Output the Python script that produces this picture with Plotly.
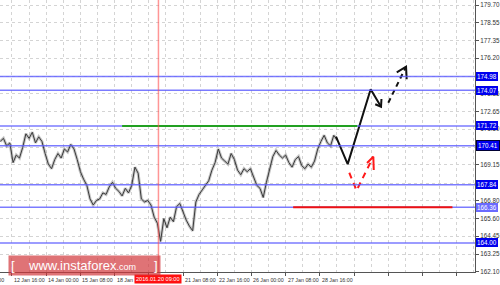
import plotly.graph_objects as go

# ---------------- data ----------------
bar_index = list(range(0, 318, 3))
close_price = [
    170.7, 170.9, 170.4, 170.6, 169.3, 169.8, 169.6, 170.3, 171.2, 170.9,
    171.3, 170.6, 171.0, 170.7, 169.9, 169.2, 168.9, 169.5, 169.9, 169.6,
    170.2, 170.0, 170.5, 170.2, 169.5, 168.7, 168.2, 167.8, 166.9, 166.5,
    166.8, 166.9, 167.3, 167.2, 167.7, 168.0, 167.6, 167.4, 167.1, 167.6,
    167.3, 167.8, 169.0, 168.6, 166.9, 166.7, 166.8, 166.5, 165.7, 165.3,
    164.1, 165.6, 165.0, 165.7, 165.4, 166.4, 166.6, 166.0, 165.5, 165.1,
    164.8, 166.7, 167.2, 167.5, 167.8, 168.1, 168.8, 169.3, 170.2, 169.6,
    169.4, 169.2, 169.9, 169.5, 168.8, 168.5, 168.9, 168.7, 168.9, 168.3,
    167.8, 167.6, 167.0, 168.0, 168.9, 169.7, 170.1, 169.8, 169.6, 169.8,
    169.3, 169.0, 169.5, 169.7, 169.1, 168.9, 169.2, 169.0, 169.4, 170.2,
    170.7, 171.1, 170.6, 170.4, 171.1, 170.8,
]

y_tick_vals = [179.70, 178.55, 177.35, 176.20, 175.00, 173.85, 172.65, 171.50,
               170.30, 169.15, 167.95, 166.80, 165.60, 164.45, 163.25, 162.10]
y_tick_text = ["179.70", "178.55", "177.35", "176.20", "", "173.85", "172.65", "171.50",
               "", "169.15", "", "166.80", "165.60", "164.45", "163.25", "162.10"]

level_values = [174.98, 174.07, 171.72, 170.41, 167.84, 166.36, 164.00]
level_labels = ["174.98", "174.07", "171.72", "170.41", "167.84", "166.36", "164.00"]

x_label_bars = [11, 43, 75, 107, 171, 203, 235, 267, 299]
x_labels = ["12 Jan 16:00", "14 Jan 00:00", "15 Jan 08:00", "18 Jan 16:00", "21 Jan 08:00",
            "22 Jan 16:00", "26 Jan 00:00", "27 Jan 08:00", "28 Jan 16:00"]

marker_bar = 148
marker_label = "2016.01.20 09:00"

green_level = 171.72
green_span = [114, 334]
red_level = 166.36
red_span = [274, 423]

black_path_x = [314.1, 325.0, 346.5, 356.2]
black_path_y = [171.01, 169.20, 174.14, 172.99]
black_head_x = [350.8, 356.2, 356.6]
black_head_y = [173.15, 172.99, 173.5]

black_dash_x = [363.0, 379.6]
black_dash_y = [173.25, 175.63]
black_dash_head_x = [370.9, 379.6, 380.2]
black_dash_head_y = [175.26, 175.63, 174.80]

red_dash_x = [326.5, 333.3, 349.0]
red_dash_y = [168.63, 167.46, 169.69]
red_dash_head_x = [343.1, 349.0, 349.4]
red_dash_head_y = [169.27, 169.69, 168.81]

# ---------------- figure ----------------
fig = go.Figure()

fig.add_trace(go.Scatter(x=bar_index, y=close_price, mode="lines",
                         line=dict(color="rgba(90,90,90,0.35)", width=3),
                         hoverinfo="skip", showlegend=False))
fig.add_trace(go.Scatter(x=bar_index, y=close_price, mode="lines",
                         line=dict(color="#3a3a3a", width=1),
                         hoverinfo="skip", showlegend=False))

# horizontal levels
for v in level_values:
    fig.add_shape(type="line", xref="paper", x0=0, x1=1, yref="y", y0=v, y1=v,
                  line=dict(color="rgba(90,90,255,0.8)", width=1.5), layer="above")

fig.add_shape(type="line", xref="x", x0=green_span[0], x1=green_span[1], yref="y",
              y0=green_level, y1=green_level, line=dict(color="#22a022", width=2), layer="above")
fig.add_shape(type="line", xref="x", x0=red_span[0], x1=red_span[1], yref="y",
              y0=red_level, y1=red_level, line=dict(color="#ee1111", width=2), layer="above")

# red vertical marker
fig.add_shape(type="line", xref="x", x0=marker_bar, x1=marker_bar, yref="paper", y0=0, y1=1,
              line=dict(color="rgba(255,80,80,0.6)", width=1.5), layer="above")

# forecast arrows
fig.add_trace(go.Scatter(x=black_path_x, y=black_path_y, mode="lines",
                         line=dict(color="#111111", width=2), hoverinfo="skip", showlegend=False))
fig.add_trace(go.Scatter(x=black_head_x, y=black_head_y, mode="lines",
                         line=dict(color="#111111", width=2), hoverinfo="skip", showlegend=False))
fig.add_trace(go.Scatter(x=black_dash_x, y=black_dash_y, mode="lines",
                         line=dict(color="#111111", width=2, dash="5px,4px"), hoverinfo="skip", showlegend=False))
fig.add_trace(go.Scatter(x=black_dash_head_x, y=black_dash_head_y, mode="lines",
                         line=dict(color="#111111", width=2), hoverinfo="skip", showlegend=False))
fig.add_trace(go.Scatter(x=red_dash_x, y=red_dash_y, mode="lines",
                         line=dict(color="#ff1a1a", width=2, dash="6px,5px"), hoverinfo="skip", showlegend=False))
fig.add_trace(go.Scatter(x=red_dash_head_x, y=red_dash_head_y, mode="lines",
                         line=dict(color="#ff1a1a", width=2), hoverinfo="skip", showlegend=False))

font_small = dict(family="Liberation Sans", size=6.3, color="#333333")
font_x = dict(family="Liberation Sans", size=5.3, color="#333333")

# level price boxes
for v, t in zip(level_values, level_labels):
    bg = "#6a6aff" if t == "166.36" else "#0000ee"
    fig.add_annotation(xref="paper", x=1, xanchor="left", xshift=1, yref="y", y=v,
                       text=t, showarrow=False, bgcolor=bg, borderpad=1,
                       bordercolor="#000033" if t == "170.41" else bg, borderwidth=1 if t == "170.41" else 0,
                       font=dict(family="Liberation Sans", size=6.3, color="white"))

# x labels
for b, t in zip(x_label_bars, x_labels):
    fig.add_annotation(xref="x", x=b, xanchor="left", xshift=0, yref="paper", y=0,
                       yanchor="top", yshift=-3, text=t, showarrow=False, font=font_x)
fig.add_annotation(xref="paper", x=6 / 475, xanchor="right", yref="paper", y=0, yanchor="top",
                   yshift=-3, text="11 Jan 08:00", showarrow=False, font=font_x)

fig.add_annotation(xref="x", x=marker_bar, xanchor="center", yref="paper", y=0, yanchor="top",
                   yshift=-2, text=marker_label, showarrow=False, bgcolor="#ff1010", borderpad=1,
                   font=dict(family="Liberation Sans", size=5.6, color="white"))

# watermark
fig.add_annotation(xref="paper", x=8 / 475, xanchor="left", yref="paper", y=-4 / 272, yanchor="bottom",
                   text="[ &nbsp;&nbsp;&nbsp;www.instaforex<span style='font-size:9px'>.com</span>&nbsp;&nbsp;&nbsp;&nbsp; ]",
                   showarrow=False, bgcolor="rgba(210,55,60,0.7)", borderpad=2,
                   font=dict(family="Liberation Sans", size=13, color="white"))

fig.update_layout(
    width=500, height=285,
    margin=dict(l=0, r=25, t=0, b=13),
    paper_bgcolor="white", plot_bgcolor="white",
    showlegend=False,
    xaxis=dict(range=[-0.22, 444.1], tickmode="linear", tick0=11, dtick=32,
               showticklabels=False, ticks="outside", ticklen=3, tickcolor="#555",
               showgrid=True, gridcolor="#d4d4d4", griddash="dot", gridwidth=1,
               minor=dict(tick0=11, dtick=16, showgrid=True, gridcolor="#d4d4d4", griddash="dot"),
               showline=True, linecolor="#555", linewidth=1, zeroline=False, fixedrange=True),
    yaxis=dict(range=[162.08, 180.03], side="right", tickmode="array",
               tickvals=y_tick_vals, ticktext=y_tick_text, tickfont=font_small,
               ticks="outside", ticklen=3, tickcolor="#555",
               showgrid=True, gridcolor="#d4d4d4", griddash="dot", gridwidth=1,
               showline=True, linecolor="#555", linewidth=1, zeroline=False, fixedrange=True),
)

fig.write_html("out.html")
